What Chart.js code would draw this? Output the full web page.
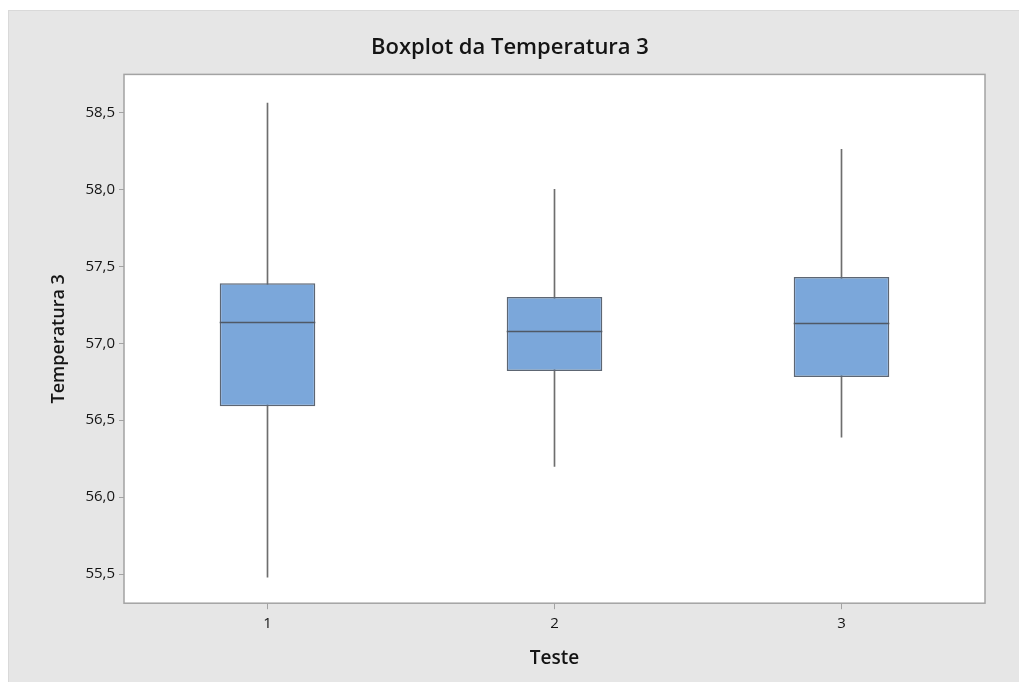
<!DOCTYPE html>
<html>
<head>
<meta charset="utf-8">
<script src="https://cdn.jsdelivr.net/npm/chart.js@4/dist/chart.umd.min.js"></script>
<style>
  body { margin: 0; background: #ffffff; }
  #frame {
    position: absolute; left: 8px; top: 10px; width: 1011px; height: 672px;
    background: #e6e6e6; border-left: 1px solid #d9d9d9; border-top: 1px solid #d9d9d9;
    box-sizing: border-box;
  }
</style>
</head>
<body>
<div id="frame"><canvas id="boxChart"></canvas></div>
<script>
// Data
const categories = ['1', '2', '3'];
const minValues = [55.48, 56.20, 56.39];
const q1Values = [56.59, 56.82, 56.78];
const medianValues = [57.14, 57.08, 57.13];
const q3Values = [57.39, 57.30, 57.43];
const maxValues = [58.56, 58.00, 58.26];

const boxRanges = categories.map((_, i) => [q1Values[i], q3Values[i]]);
const whiskerRanges = categories.map((_, i) => [minValues[i], maxValues[i]]);

const fontFamily = '"Open Sans", "Noto Sans", sans-serif';
const textColor = '#141414';
const frameColor = '#a3a3a3';

// white plot area with a grey frame
const plotBackground = {
    id: 'plotBackground',
    beforeDraw(chart) {
        const { ctx, chartArea: a } = chart;
        ctx.save();
        ctx.fillStyle = '#ffffff';
        ctx.fillRect(a.left, a.top, a.right - a.left, a.bottom - a.top);
        ctx.restore();
    },
    afterDraw(chart) {
        const { ctx, chartArea: a } = chart;
        ctx.save();
        ctx.strokeStyle = frameColor;
        ctx.lineWidth = 1.5;
        ctx.strokeRect(a.left, a.top, a.right - a.left, a.bottom - a.top);
        ctx.restore();
    }
};

// median line across each box
const medianLines = {
    id: 'medianLines',
    afterDatasetsDraw(chart) {
        const { ctx } = chart;
        const y = chart.scales.y;
        const boxes = chart.getDatasetMeta(1).data;
        ctx.save();
        ctx.strokeStyle = '#4f5966';
        ctx.lineWidth = 1.5;
        boxes.forEach((bar, i) => {
            const py = Math.round(y.getPixelForValue(medianValues[i])) + 0.5;
            ctx.beginPath();
            ctx.moveTo(bar.x - bar.width / 2, py);
            ctx.lineTo(bar.x + bar.width / 2, py);
            ctx.stroke();
        });
        ctx.restore();
    }
};

const config = {
    type: 'bar',
    data: {
        labels: categories,
        datasets: [
            {
                label: 'whisker',
                data: whiskerRanges,
                backgroundColor: '#6e6e6e',
                borderWidth: 0,
                barThickness: 1,
                grouped: false,
                order: 2
            },
            {
                label: 'box',
                data: boxRanges,
                backgroundColor: '#7ba7da',
                borderColor: '#5d6673',
                borderWidth: 1.5,
                borderSkipped: false,
                categoryPercentage: 1,
                barPercentage: 0.333,
                grouped: false,
                order: 1
            }
        ]
    },
    options: {
        responsive: false,
        animation: false,
        layout: { padding: { top: 0, right: 35, bottom: 0, left: 26 } },
        plugins: {
            legend: { display: false },
            tooltip: { enabled: false },
            title: {
                display: true,
                text: 'Boxplot da Temperatura 3',
                color: textColor,
                font: { family: fontFamily, size: 22, weight: '600' },
                padding: { top: 24, bottom: 13 }
            }
        },
        scales: {
            x: {
                offset: true,
                grid: {
                    drawOnChartArea: false,
                    color: frameColor,
                    tickLength: 6,
                    offset: false
                },
                border: { display: false },
                ticks: {
                    color: textColor,
                    font: { family: fontFamily, size: 15 },
                    padding: 6
                },
                title: {
                    display: true,
                    text: 'Teste',
                    color: textColor,
                    font: { family: fontFamily, size: 19, weight: '600' },
                    padding: { top: 8, bottom: 13 }
                }
            },
            y: {
                min: 55.311,
                max: 58.747,
                grid: {
                    drawOnChartArea: false,
                    color: frameColor,
                    tickLength: 5
                },
                border: { display: false },
                ticks: {
                    stepSize: 0.5,
                    includeBounds: false,
                    color: textColor,
                    font: { family: fontFamily, size: 15 },
                    padding: 4,
                    callback: v => v.toFixed(1).replace('.', ',')
                },
                title: {
                    display: true,
                    text: 'Temperatura 3',
                    color: textColor,
                    font: { family: fontFamily, size: 18, weight: '600' },
                    padding: { top: 13, bottom: 10 }
                },
                afterFit(scale) { scale.width = 89; }
            }
        }
    },
    plugins: [plotBackground, medianLines]
};

const canvas = document.getElementById('boxChart');
canvas.width = 1011;
canvas.height = 672;
new Chart(canvas, config);
</script>
</body>
</html>
